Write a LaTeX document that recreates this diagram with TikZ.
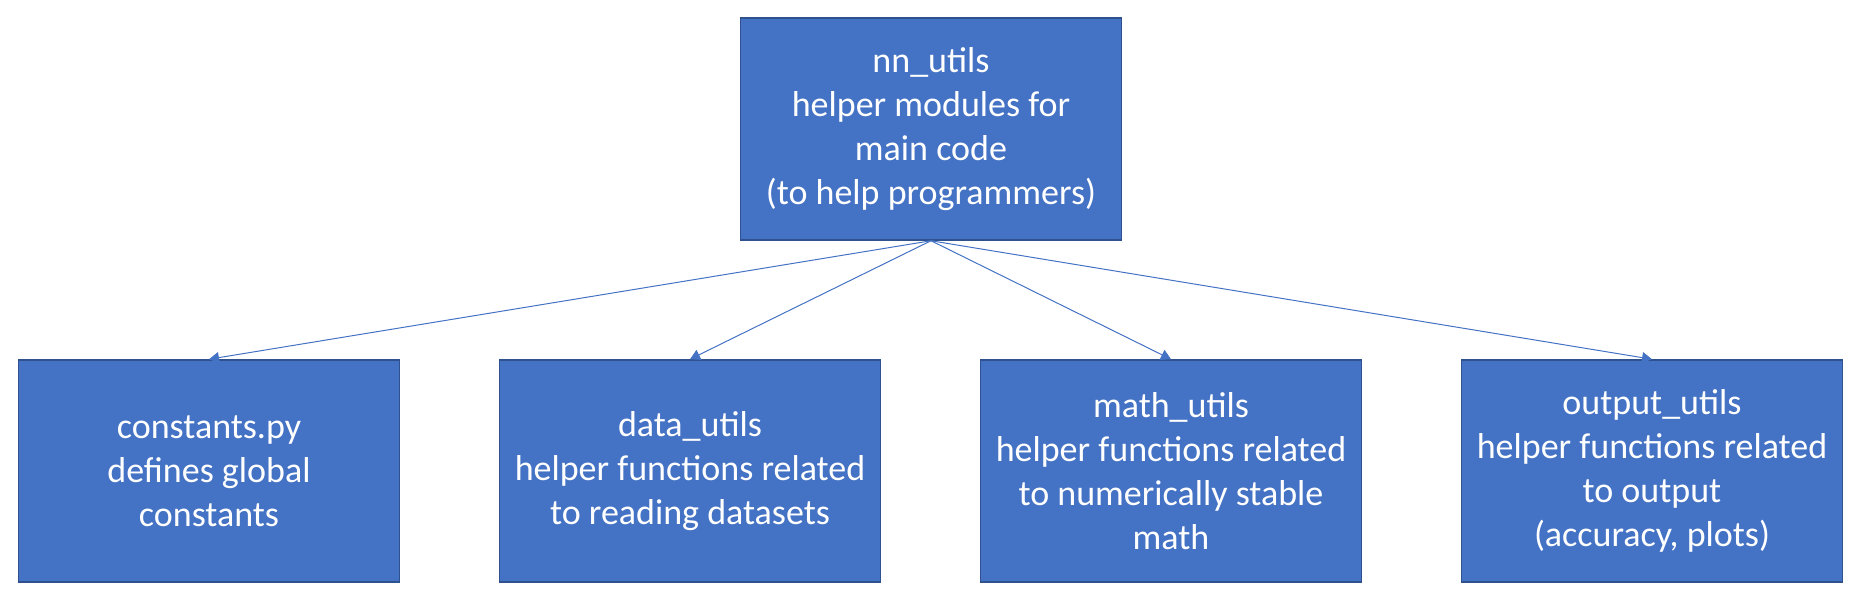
\documentclass[tikz,border=0pt]{standalone}
\usepackage{fontspec}
\setmainfont{Carlito}
\usetikzlibrary{arrows.meta}
\definecolor{boxblue}{HTML}{4472C4}
\definecolor{boxedge}{HTML}{2F528F}
\tikzset{
  modbox/.style={draw=boxedge,line width=1.5pt,fill=boxblue,text=white,
    minimum width=381pt,minimum height=222pt,align=center,inner sep=0pt,
    font=\fontsize{36}{44}\selectfont},
  link/.style={draw=boxblue,line width=1pt,-{Triangle[width=11pt,length=10pt]}}
}
\begin{document}
\begin{tikzpicture}[x=1pt,y=1pt]
    \useasboundingbox (0,0) rectangle (1866,594);
    \node[modbox] (utils) at (931,465) {nn\_utils\\helper modules for\\main code\\(to help programmers)};
    \node[modbox] (const) at (209,123) {constants.py\\defines global\\constants};
    \node[modbox] (data) at (690,123) {data\_utils\\helper functions related\\to reading datasets};
    \node[modbox] (math) at (1171,123) {math\_utils\\helper functions related\\to numerically stable\\math};
    \node[modbox] (output) at (1652,123) {output\_utils\\helper functions related\\to output\\(accuracy, plots)};
    \foreach \m in {const,data,math,output}
    \draw[link] (utils.south)--(\m.north);
  \end{tikzpicture}
\end{document}
